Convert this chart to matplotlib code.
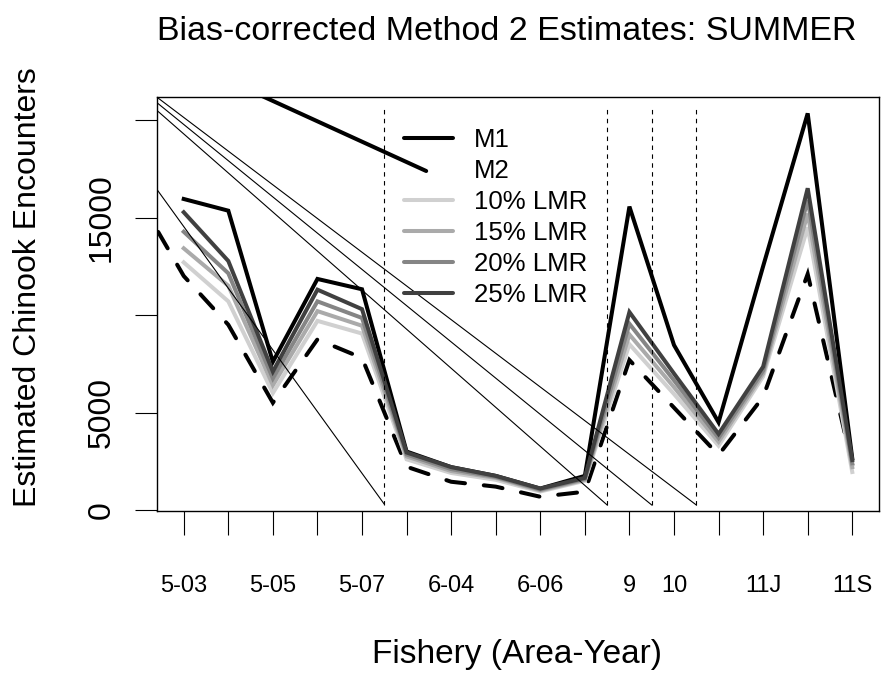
import matplotlib.pyplot as plt

plt.rcParams['font.family'] = ['Liberation Sans', 'DejaVu Sans']

# fishery index along the x axis and the labels shown under it
fishery = list(range(1, 17))
tick_labels = ['5-03', '', '5-05', '', '5-07', '', '6-04', '', '6-06', '',
               '9', '10', '', '11J', '', '11S']

m1 = [15950, 15350, 7600, 11850, 11320, 3000, 2200, 1750, 1100, 1750,
      15560, 8460, 4500, 12500, 20340, 2650]
# M2 starts one step to the left of the first fishery
m2_x = list(range(0, 17))
m2 = [15940, 12000, 9500, 5500, 8750, 7800, 2220, 1450, 1200, 680, 940,
      7690, 5250, 2820, 5800, 12100, 2300]
lmr10 = [12700, 10700, 6000, 9700, 9050, 2600, 1900, 1550, 950, 1500,
         8500, 5950, 3300, 6850, 14500, 1950]
lmr15 = [13420, 11500, 6400, 10200, 9450, 2750, 2000, 1650, 1000, 1550,
         9000, 6300, 3500, 7000, 15200, 2200]
lmr20 = [14270, 12140, 6750, 10700, 9850, 2850, 2100, 1700, 1050, 1600,
         9550, 6650, 3700, 7150, 15900, 2400]
lmr25 = [15270, 12770, 7100, 11300, 10300, 2950, 2200, 1750, 1100, 1650,
         10150, 7000, 3900, 7350, 16500, 2560]

# area breaks
breaks = [5.5, 10.5, 11.5, 12.5]
break_lo, break_hi = 280, 20600
# stray segments running from x=0 down to the foot of each break
seg_y0 = [17700, 21290, 21630, 21860]
seg_y1 = [300, 260, 260, 260]
# stray thick segment left over from the M2 key
m2key_x = [0, 6.44]
m2key_y = [24110, 17385]

fig = plt.figure(figsize=(8.81, 6.74), dpi=100)
ax = fig.add_axes([157 / 881, 1 - 511 / 674, 722 / 881, 414 / 674])

lw = 2.9
ax.plot(fishery, m1, color='black', lw=lw, solid_joinstyle='miter', label='M1')
ax.plot(m2_x, m2, color='black', lw=lw, dashes=(4.7, 4.7),
        dash_capstyle='round', dash_joinstyle='miter')
greys = ['#d0d0d0', '#aaaaaa', '#858585', '#404040']
for vals, col, name in zip([lmr10, lmr15, lmr20, lmr25], greys,
                           ['10% LMR', '15% LMR', '20% LMR', '25% LMR']):
    ax.plot(fishery, vals, color=col, lw=lw, solid_joinstyle='miter')

for b, y0, y1 in zip(breaks, seg_y0, seg_y1):
    ax.plot([b, b], [break_lo, break_hi], color='black', lw=0.8,
            dashes=(4, 4), zorder=5)
    ax.plot([0, b], [y0, y1], color='black', lw=0.8, zorder=5)
ax.plot(m2key_x, m2key_y, color='black', lw=lw, solid_capstyle='round', zorder=5)

# legend without a frame; M2 has no visible key
handles = [plt.Line2D([], [], color='black', lw=lw, solid_capstyle='round'),
           plt.Line2D([], [], color='none', lw=lw)]
handles += [plt.Line2D([], [], color=c, lw=lw, solid_capstyle='round') for c in greys]
ax.legend(handles, ['M1', 'M2', '10% LMR', '15% LMR', '20% LMR', '25% LMR'],
          loc='upper left', bbox_to_anchor=(404 / 881, 1 - 128 / 674),
          bbox_transform=fig.transFigure, frameon=False, fontsize=18.6,
          handlelength=1.9, handletextpad=0.8, labelspacing=0.27,
          borderpad=0, borderaxespad=0)

ax.set_xlim(0.4, 16.6)
ax.set_ylim(-50, 21180)
ax.set_xticks(fishery)
ax.set_xticklabels(tick_labels, fontsize=17)
ax.set_yticks([0, 5000, 10000, 15000, 20000])
ax.set_yticklabels(['0', '5000', '', '15000', ''], fontsize=23,
                   rotation=90, va='center')
ax.tick_params(axis='x', length=17, width=0.8, pad=29)
ax.tick_params(axis='y', length=16, width=0.8, pad=13)
for s in ax.spines.values():
    s.set_linewidth(1.0)

fig.text(507 / 881, 1 - 31 / 674, 'Bias-corrected Method 2 Estimates: SUMMER',
         ha='center', va='center', fontsize=24.5)
fig.text(517 / 881, 1 - 655 / 674, 'Fishery (Area-Year)',
         ha='center', va='center', fontsize=24)
fig.text(28 / 881, 1 - 287 / 674, 'Estimated Chinook Encounters',
         ha='center', va='center', rotation=90, fontsize=23)

fig.savefig('out.png', dpi=100)
